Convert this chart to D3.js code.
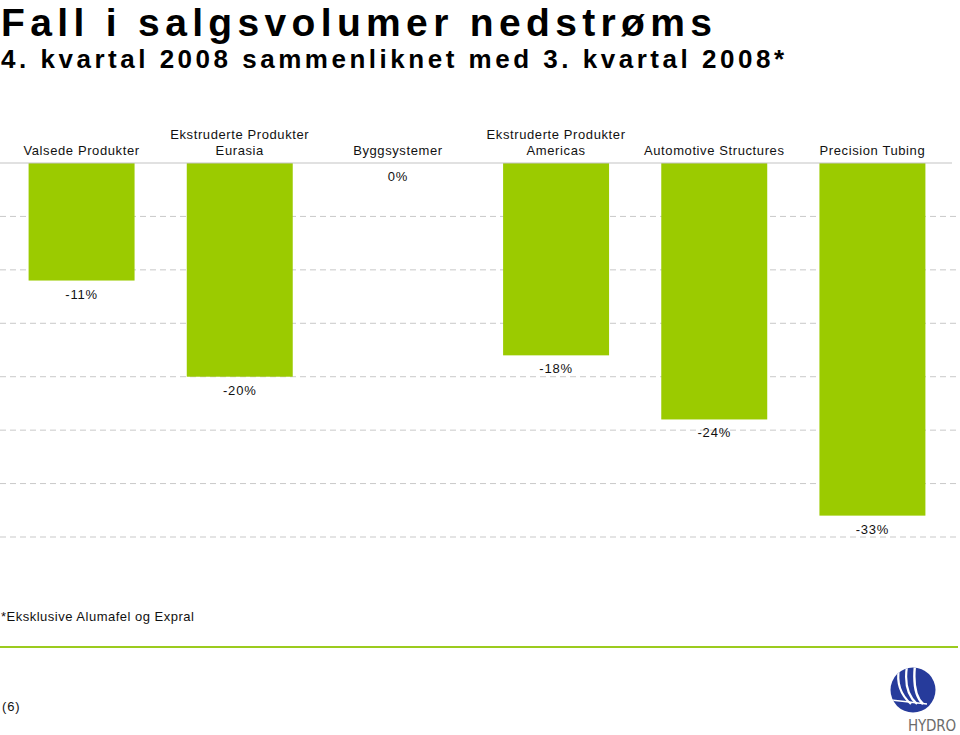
<!DOCTYPE html>
<html><head><meta charset="utf-8">
<script src="https://cdn.jsdelivr.net/npm/d3@7"></script>
<style>body{margin:0;background:#fff}svg{display:block;font-family:"Liberation Sans",Arial,sans-serif}</style>
</head><body>
<script>
const categories = [["Valsede Produkter"],["Ekstruderte Produkter","Eurasia"],["Byggsystemer"],["Ekstruderte Produkter","Americas"],["Automotive Structures"],["Precision Tubing"]];
const values = [-11,-20,0,-18,-24,-33];
const valueLabels = ["-11%","-20%","0%","-18%","-24%","-33%"];
const gridTicks = [-5,-10,-15,-20,-25,-30,-35];
const title = "Fall i salgsvolumer nedstrøms";
const subtitle = "4. kvartal 2008 sammenliknet med 3. kvartal 2008*";
const footnote = "*Eksklusive Alumafel og Expral";
const pageNo = "(6)";

const W=960,H=735;
const svg=d3.select("body").append("svg").attr("width",W).attr("height",H);
const x=d3.scaleBand().domain(d3.range(values.length)).range([2.5,951.5]).paddingInner(0.33).paddingOuter(0.165);
const y=d3.scaleLinear().domain([0,-35]).range([163,537]);

svg.append("text").attr("x",1).attr("y",35.5).attr("font-size",39).attr("font-weight","bold")
  .attr("textLength",711).attr("lengthAdjust","spacing").text(title);
svg.append("text").attr("x",1).attr("y",68).attr("font-size",26).attr("font-weight","bold")
  .attr("textLength",783).attr("lengthAdjust","spacing").text(subtitle);

// gridlines
svg.append("g").selectAll("line").data(gridTicks).join("line")
  .attr("x1",0).attr("x2",958).attr("y1",d=>y(d)).attr("y2",d=>y(d))
  .attr("stroke","#c9c9c9").attr("stroke-width",1).attr("stroke-dasharray","6,4");

// bars
svg.append("g").selectAll("rect").data(values).join("rect")
  .attr("x",(d,i)=>x(i)).attr("width",x.bandwidth())
  .attr("y",y(0)).attr("height",d=>y(d)-y(0)).attr("fill","#9bcb00");

// zero line
svg.append("line").attr("x1",0).attr("x2",952).attr("y1",y(0)).attr("y2",y(0)).attr("stroke","#c4c4c4").attr("stroke-width",1.2);

// category labels
const cg=svg.append("g").attr("font-size",13).attr("fill","#111").attr("text-anchor","middle").attr("letter-spacing","0.6px");
categories.forEach((c,i)=>{
  const cx=x(i)+x.bandwidth()/2;
  c.forEach((t,j)=>{
    cg.append("text").attr("x",cx).attr("y",155-(c.length-1-j)*16.5).text(t);
  });
});

// value labels
svg.append("g").attr("font-size",13).attr("text-anchor","middle").attr("letter-spacing","0.8px").attr("fill","#111")
  .selectAll("text").data(values).join("text")
  .attr("x",(d,i)=>x(i)+x.bandwidth()/2).attr("y",d=>y(d)+18).text((d,i)=>valueLabels[i]);

// footnote
svg.append("text").attr("x",1).attr("y",621).attr("font-size",13).attr("letter-spacing","0.5px").attr("fill","#111").text(footnote);
svg.append("line").attr("x1",0).attr("x2",958).attr("y1",647).attr("y2",647).attr("stroke","#9bcb1e").attr("stroke-width",2);
svg.append("text").attr("x",2).attr("y",711).attr("font-size",13).attr("letter-spacing","0.8px").attr("fill","#111").text(pageNo);

// Hydro logo
const lg=svg.append("g").attr("transform","translate(913,690)");
lg.append("clipPath").attr("id","lc").append("circle").attr("r",22.5);
lg.append("circle").attr("r",22.5).attr("fill","#263b9b");
const st=lg.append("g").attr("clip-path","url(#lc)").attr("fill","none").attr("stroke","#fff");
st.append("path").attr("d","M-14,-22 Q-18,0 -2,14").attr("stroke-width",2.2);
st.append("path").attr("d","M-6,-24 Q-10,2 4,14").attr("stroke-width",2.2);
st.append("path").attr("d","M2,-25 Q-1,4 10,14").attr("stroke-width",2.4);
st.append("path").attr("d","M-22,10 L14,14").attr("stroke-width",1.6);
svg.append("text").attr("x",932).attr("y",731).attr("text-anchor","middle").attr("font-size",15)
  .attr("font-family","'DejaVu Sans Condensed','Liberation Sans Narrow',sans-serif").attr("fill","#6b6b6b")
  .attr("textLength",48).attr("lengthAdjust","spacing").text("HYDRO");
</script>
</body></html>
